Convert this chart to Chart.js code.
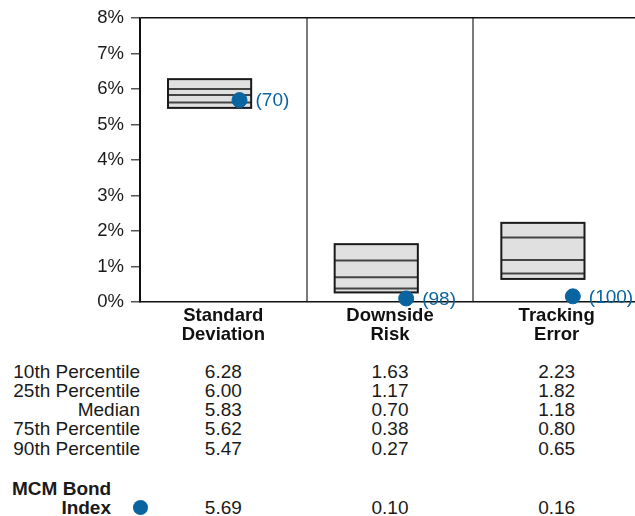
<!DOCTYPE html>
<html>
<head>
<meta charset="utf-8">
<script src="https://cdn.jsdelivr.net/npm/chart.js@4.4.1/dist/chart.umd.min.js"></script>
<style>
  html, body { margin: 0; padding: 0; background: #fff; overflow: hidden; }
  body { width: 635px; height: 516px; position: relative; font-family: "Liberation Sans", Arial, sans-serif; color: #1a1a1a; }
  #wrap { position: absolute; left: 0; top: 0; width: 644px; height: 350px; }
  .t { position: absolute; font-size: 19px; line-height: 19px; white-space: nowrap; }
  .lbl { left: 0; width: 140px; text-align: right; }
  .val { width: 80px; text-align: center; }
  .b { font-weight: bold; }
  .dot { position: absolute; width: 15px; height: 15px; border-radius: 50%; background: #0a64a0; }
</style>
</head>
<body>
<div id="wrap"><canvas id="chart" width="644" height="350"></canvas></div>
<div id="table"></div>
<script>
const categories = [['Standard', 'Deviation'], ['Downside', 'Risk'], ['Tracking', 'Error']];
const p10 = [6.28, 1.63, 2.23];
const p25 = [6.00, 1.17, 1.82];
const median = [5.83, 0.70, 1.18];
const p75 = [5.62, 0.38, 0.80];
const p90 = [5.47, 0.27, 0.65];
const indexValues = [5.69, 0.10, 0.16];
const indexRanks = [70, 98, 100];
const rowLabels = ['10th Percentile', '25th Percentile', 'Median', '75th Percentile', '90th Percentile'];
const yTicks = [0, 1, 2, 3, 4, 5, 6, 7, 8];

const BLUE = '#0a64a0';

// caixas de percentis desenhadas sobre as escalas do gráfico
const boxPlugin = {
    id: 'boxes',
    beforeDatasetsDraw(chart) {
        const ctx = chart.ctx;
        const x = chart.scales.x;
        const y = chart.scales.y;
        ctx.save();
        categories.forEach((c, i) => {
            const x1 = x.getPixelForValue(i + 0.168);
            const x2 = x.getPixelForValue(i + 0.667);
            const top = y.getPixelForValue(p10[i]);
            const bot = y.getPixelForValue(p90[i]);
            ctx.fillStyle = '#e0e0e0';
            ctx.fillRect(x1, top, x2 - x1, bot - top);
            ctx.strokeStyle = '#444';
            ctx.lineWidth = 2;
            [p25[i], median[i], p75[i]].forEach(v => {
                const yy = y.getPixelForValue(v);
                ctx.beginPath();
                ctx.moveTo(x1, yy);
                ctx.lineTo(x2, yy);
                ctx.stroke();
            });
            ctx.strokeStyle = '#1a1a1a';
            ctx.strokeRect(x1, top, x2 - x1, bot - top);
        });
        ctx.restore();
    },
    afterDatasetsDraw(chart) {
        const ctx = chart.ctx;
        const meta = chart.getDatasetMeta(0);
        ctx.save();
        ctx.fillStyle = BLUE;
        ctx.font = '19px "Liberation Sans", Arial, sans-serif';
        ctx.textBaseline = 'middle';
        meta.data.forEach((pt, i) => {
            ctx.fillText('(' + indexRanks[i] + ')', pt.x + 16, pt.y + 1);
        });
        ctx.restore();
    }
};

new Chart(document.getElementById('chart'), {
    type: 'scatter',
    data: {
        datasets: [{
            data: indexValues.map((v, i) => ({ x: i + 0.597, y: v })),
            backgroundColor: BLUE,
            borderColor: BLUE,
            pointRadius: 7.5,
            pointHoverRadius: 7.5,
            clip: false
        }]
    },
    options: {
        responsive: false,
        animation: false,
        events: [],
        layout: { autoPadding: false, padding: { top: 17, left: 0, right: 0, bottom: 0 } },
        plugins: {
            legend: { display: false },
            tooltip: { enabled: false }
        },
        scales: {
            x: {
                type: 'linear',
                min: 0,
                max: 3,
                afterBuildTicks: scale => {
                    scale.ticks = [0, 0.5, 1, 1.5, 2, 2.5, 3].map(v => ({ value: v }));
                },
                afterFit: scale => { scale.height = 48; },
                border: { color: '#111', width: 1.5 },
                grid: {
                    drawTicks: false,
                    lineWidth: 2,
                    color: c => {
                        const v = c.tick ? c.tick.value : 0;
                        if (v === 0 || v === 3) return '#111';
                        return v % 1 === 0 ? '#7a7a7a' : 'rgba(0,0,0,0)';
                    }
                },
                ticks: {
                    padding: 4,
                    maxRotation: 0,
                    autoSkip: false,
                    color: '#111',
                    font: { family: '"Liberation Sans", Arial, sans-serif', size: 18.5, weight: 'bold', lineHeight: 1.03 },
                    callback: v => (v % 1 === 0.5 ? categories[Math.floor(v)] : '')
                }
            },
            y: {
                min: 0,
                max: 8,
                afterBuildTicks: scale => {
                    scale.ticks = yTicks.map(v => ({ value: v }));
                },
                afterFit: scale => { scale.width = 140; },
                border: { color: '#111', width: 1.5 },
                grid: {
                    tickLength: 9,
                    lineWidth: 1.5,
                    color: c => (c.tick && c.tick.value === 8 ? '#111' : 'rgba(0,0,0,0)'),
                    tickColor: '#555'
                },
                ticks: {
                    padding: 7,
                    color: '#1a1a1a',
                    font: { family: '"Liberation Sans", Arial, sans-serif', size: 18.5 },
                    callback: v => v + '%'
                }
            }
        }
    },
    plugins: [boxPlugin]
});

// tabela de valores abaixo do gráfico
const table = document.getElementById('table');
const colCenters = categories.map((c, i) => 140 + (i + 0.5) * 500 / 3);
const rows = [p10, p25, median, p75, p90];
rows.forEach((vals, r) => {
    const top = 361.5 + r * 19.25;
    const lab = document.createElement('div');
    lab.className = 't lbl';
    lab.style.top = top + 'px';
    lab.textContent = rowLabels[r];
    table.appendChild(lab);
    vals.forEach((v, i) => {
        const d = document.createElement('div');
        d.className = 't val';
        d.style.top = top + 'px';
        d.style.left = (colCenters[i] - 40) + 'px';
        d.textContent = v.toFixed(2);
        table.appendChild(d);
    });
});

const l1 = document.createElement('div');
l1.className = 't b';
l1.style.left = '12px';
l1.style.top = '478.5px';
l1.textContent = 'MCM Bond';
table.appendChild(l1);

const l2 = document.createElement('div');
l2.className = 't b';
l2.style.left = '0px';
l2.style.width = '111px';
l2.style.textAlign = 'right';
l2.style.top = '497.5px';
l2.textContent = 'Index';
table.appendChild(l2);

const dot = document.createElement('div');
dot.className = 'dot';
dot.style.left = '132.5px';
dot.style.top = '499.5px';
table.appendChild(dot);

indexValues.forEach((v, i) => {
    const d = document.createElement('div');
    d.className = 't val';
    d.style.top = '497.5px';
    d.style.left = (colCenters[i] - 40) + 'px';
    d.textContent = v.toFixed(2);
    table.appendChild(d);
});
</script>
</body>
</html>
